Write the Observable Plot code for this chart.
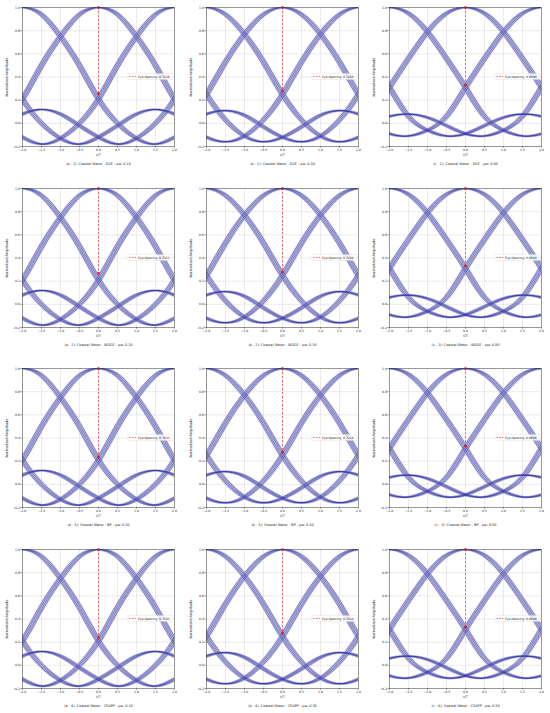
<!DOCTYPE html>
<html><head><meta charset="utf-8">
<script src="https://cdn.jsdelivr.net/npm/d3@7"></script>
<script src="https://cdn.jsdelivr.net/npm/@observablehq/plot@0.6"></script>
<style>
html,body{margin:0;padding:0;background:#fff;}
#chart{position:relative;width:550px;height:713px;overflow:hidden;background:#fff;}
#chart svg{position:absolute;overflow:visible;}
</style></head><body><div id="chart"></div>
<script>
// ---- data ----
const xTicks = [-2, -1.5, -1, -0.5, 0, 0.5, 1, 1.5, 2];
const yTicks = [-0.2, 0, 0.2, 0.4, 0.6, 0.8, 1.0];
// one-sided received pulse shape (t/T offsets from its peak) for each pulse width
const pulseT     = [0, 0.5, 1, 1.5, 2, 2.5, 3, 3.5, 4, 4.5, 5, 5.5, 6, 6.5, 7];
const pulsePw010 = [1.00, 0.94, 0.75, 0.50, 0.21, 0.00, -0.13, -0.18, -0.12, -0.02, 0.08, 0.12, 0.08, 0.00, -0.05];
const pulsePw030 = [1.00, 0.94, 0.77, 0.53, 0.25, 0.03, -0.11, -0.16, -0.12, -0.03, 0.07, 0.11, 0.08, 0.01, -0.04];
const pulsePw050 = [1.00, 0.95, 0.79, 0.56, 0.31, 0.06, -0.06, -0.11, -0.09, -0.02, 0.05, 0.08, 0.06, 0.01, -0.03];
const symbolShifts = [-4, -2, 0, 2, 4];
const timingJitter = [-0.065, -0.022, 0.022, 0.065];
const methods = ["DGF", "WDGF", "NP", "CEAPP"];
const pwLabels = ["0.10", "0.30", "0.50"];
const colLetters = ["a", "b", "c"];
const eyeDGF   = [0.7436, 0.7200, 0.6698];
const eyeWDGF  = [0.7323, 0.7208, 0.6684];
const eyeNP    = [0.7633, 0.7216, 0.6696];
const eyeCEAPP = [0.7583, 0.7210, 0.6698];
const eyeTop = 1.0;

// ---- build ----
const pulses = [pulsePw010, pulsePw030, pulsePw050];
const eyes = [eyeDGF, eyeWDGF, eyeNP, eyeCEAPP];
const fmt = d3.format(".1f");
const chart = document.getElementById("chart");
const colLeft = [0, 183.5, 367];
const rowTop = [0, 180.5, 361, 541.5];
const FONT = "'DejaVu Sans', sans-serif";

function fullPulse(vals) {
  const t = [], v = [];
  for (let i = pulseT.length - 1; i > 0; i--) { t.push(-pulseT[i]); v.push(vals[i]); }
  for (let i = 0; i < pulseT.length; i++) { t.push(pulseT[i]); v.push(vals[i]); }
  return {t, v};
}

function legendMark(eye) {
  return (index, scales, values, dimensions) => {
    const {width, height, marginRight, marginTop, marginBottom} = dimensions;
    const right = width - marginRight - 1.2;
    const cy = (marginTop + height - marginBottom) / 2;
    const g = d3.create("svg:g");
    g.append("rect").attr("x", right - 45).attr("y", cy - 3.1).attr("width", 45).attr("height", 6.2)
      .attr("fill", "white").attr("fill-opacity", 0.85).attr("stroke", "#d0d0d0").attr("stroke-width", 0.35).attr("rx", 0.8);
    g.append("line").attr("x1", right - 43.5).attr("x2", right - 36.5).attr("y1", cy).attr("y2", cy)
      .attr("stroke", "#e8231f").attr("stroke-width", 0.6).attr("stroke-dasharray", "1.8,0.9");
    g.append("text").attr("x", right - 34.8).attr("y", cy).attr("dy", "0.35em")
      .attr("text-anchor", "start")
      .attr("font-size", 3.0).attr("font-family", FONT).attr("fill", "#222")
      .text(`Eye Opening: ${eye.toFixed(4)}`);
    return g.node();
  };
}

for (let r = 0; r < 4; r++) {
  for (let c = 0; c < 3; c++) {
    const {t, v} = fullPulse(pulses[c]);
    const traces = [];
    symbolShifts.forEach(s => timingJitter.forEach(j => {
      t.forEach((tt, i) => traces.push({x: s + tt + j, y: v[i], id: `${s}|${j}`}));
    }));
    const eye = eyes[r][c];
    const seg = [{x: 0, y1: eyeTop, y2: eyeTop - eye}];
    const pts = [{x: 0, y: eyeTop}, {x: 0, y: eyeTop - eye}];
    const caption = `(${colLetters[c]} - ${r + 1}): Coastal Water - ${methods[r]} - pw: ${pwLabels[c]}`;
    const plot = Plot.plot({
      width: 183, height: 172,
      marginLeft: 22, marginRight: 9, marginTop: 7, marginBottom: 26,
      style: {fontFamily: FONT, fontSize: "3.1px", background: "transparent", overflow: "visible", color: "#222"},
      x: {domain: [-2, 2]},
      y: {domain: [-0.2, 1]},
      marks: [
        Plot.gridX(xTicks, {stroke: "#cccccc", strokeOpacity: 1, strokeWidth: 0.4}),
        Plot.gridY(yTicks, {stroke: "#cccccc", strokeOpacity: 1, strokeWidth: 0.4}),
        Plot.line(traces, {x: "x", y: "y", z: "id", curve: "natural", clip: true, stroke: "#c3c4e0", strokeWidth: 2.1}),
        Plot.line(traces, {x: "x", y: "y", z: "id", curve: "natural", clip: true, stroke: "#2626a2", strokeWidth: 0.45}),
        Plot.ruleX(seg, {x: "x", y1: "y1", y2: "y2", stroke: "#e8231f", strokeWidth: 0.6, strokeDasharray: "2.4,1.6"}),
        Plot.dot(pts, {x: "x", y: "y", r: 1.3, fill: "#f01010", symbol: "square"}),
        Plot.frame({stroke: "#444", strokeWidth: 0.5}),
        Plot.axisX({ticks: xTicks, tickFormat: fmt, tickSize: 1.8, tickPadding: 0.8, label: null, fontSize: 3.1, strokeWidth: 0.4}),
        Plot.axisY({ticks: yTicks, tickFormat: fmt, tickSize: 1.8, tickPadding: 0.8, label: null, fontSize: 3.1, strokeWidth: 0.4}),
        Plot.text(["t/T"], {frameAnchor: "bottom", dy: 8.7, lineAnchor: "middle", textAnchor: "middle", fontSize: 3.4, fill: "#222"}),
        Plot.text(["Normalized Amplitude"], {frameAnchor: "left", dx: -16, rotate: -90, lineAnchor: "middle", textAnchor: "middle", fontSize: 3.5, fill: "#222"}),
        Plot.text([caption], {frameAnchor: "bottom", dy: 17, lineAnchor: "middle", textAnchor: "middle", fontSize: 3.4, fill: "#222"}),
        legendMark(eye)
      ]
    });
    plot.style.left = colLeft[c] + "px";
    plot.style.top = rowTop[r] + "px";
    chart.appendChild(plot);
  }
}
</script>
</body></html>
